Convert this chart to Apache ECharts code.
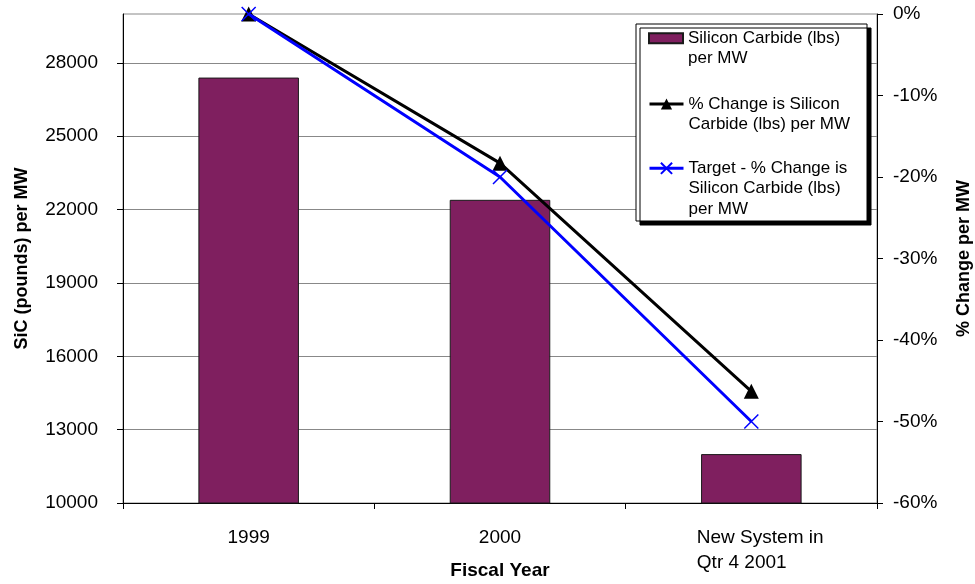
<!DOCTYPE html>
<html>
<head>
<meta charset="utf-8">
<script src="https://cdn.jsdelivr.net/npm/echarts@6/dist/echarts.min.js"></script>
<style>
  html, body { margin: 0; padding: 0; background: #fff; }
  #chart { width: 975px; height: 584px; }
</style>
</head>
<body>
<div id="chart"></div>
<script>
// Fiscal years / system stages on the category axis
const categories = ['1999', '2000', 'New System in\nQtr 4 2001'];
// Silicon carbide use, pounds per MW (bars, left axis)
const sicPerMW = [27400, 22400, 12000];
// Percent change vs. 1999 (right axis)
const pctChange = [0, -18.3, -46.3];
const targetPctChange = [0, -20, -50];
// Tick values
const sicTicks = [10000, 13000, 16000, 19000, 22000, 25000, 28000];
const pctTicks = [0, -10, -20, -30, -40, -50, -60];

const seriesNames = [
  'Silicon Carbide (lbs) per MW',
  '% Change is Silicon Carbide (lbs) per MW',
  'Target - % Change is Silicon Carbide (lbs) per MW'
];
const legendLines = {
  [seriesNames[0]]: ['Silicon Carbide (lbs)', 'per MW'],
  [seriesNames[1]]: ['% Change is Silicon', 'Carbide (lbs) per MW'],
  [seriesNames[2]]: ['Target - % Change is', 'Silicon Carbide (lbs)', 'per MW']
};

const FONT = "'Liberation Sans', Arial, sans-serif";
const LINE_H = 20.5;

// One legend block per series; leading blank lines keep the icon level
// with the first line of a multi-line entry (legend text is centred on the icon)
function legendBlock(name, firstLineY, itemHeight, extra) {
  const lines = legendLines[name];
  const n = lines.length;
  const text = new Array(n - 1).fill('').concat(lines).join('\n');
  return Object.assign({
    data: [name],
    left: 648,
    top: firstLineY - (2 * n - 1) * LINE_H / 2,
    orient: 'vertical',
    padding: 0,
    itemWidth: 34,
    itemHeight: itemHeight,
    itemGap: 0,
    selectedMode: false,
    z: 10,
    formatter: () => text,
    textStyle: {
      fontFamily: FONT,
      fontSize: 17,
      color: '#000',
      lineHeight: LINE_H
    }
  }, extra || {});
}

const chart = echarts.init(document.getElementById('chart'), null, { renderer: 'canvas' });

chart.setOption({
  animation: false,
  backgroundColor: '#fff',
  textStyle: { fontFamily: FONT },
  grid: {
    left: 123, right: 98, top: 14, bottom: 81,
    show: true, borderColor: '#888', borderWidth: 1,
    containLabel: false,
    outerBoundsMode: 'none'
  },
  graphic: [{
    type: 'rect',
    z: 3,
    shape: { x: 636, y: 24, width: 231, height: 197 },
    style: {
      fill: '#fff', stroke: '#000', lineWidth: 1,
      shadowColor: '#000', shadowOffsetX: 4, shadowOffsetY: 4, shadowBlur: 0
    }
  }],
  legend: [
    legendBlock(seriesNames[0], 38.3, 10, { icon: 'rect' }),
    legendBlock(seriesNames[1], 104, 14, { lineStyle: { width: 3 } }),
    legendBlock(seriesNames[2], 168.3, 14, { lineStyle: { width: 3 } })
  ],
  xAxis: {
    type: 'category',
    data: categories,
    boundaryGap: true,
    name: 'Fiscal Year',
    nameLocation: 'middle',
    nameGap: 58,
    nameMoveOverlap: false,
    nameTextStyle: { fontFamily: FONT, fontSize: 19, fontWeight: 'bold', color: '#000' },
    axisLine: { onZero: false, lineStyle: { color: '#000', width: 1 } },
    axisTick: { show: true, alignWithLabel: false, length: 6, lineStyle: { color: '#000' } },
    axisLabel: {
      margin: 22,
      fontFamily: FONT,
      fontSize: 19,
      color: '#000',
      lineHeight: 25,
      interval: 0,
      formatter: (v) => v.indexOf('\n') >= 0
        ? v.split('\n').map((s) => '{l|' + s + '}').join('\n')
        : v,
      rich: {
        l: {
          fontFamily: FONT, fontSize: 19, color: '#000', lineHeight: 25,
          width: 127, align: 'left', padding: [0, 0, 0, 18]
        }
      }
    },
    splitLine: { show: false }
  },
  yAxis: [{
    type: 'value',
    position: 'left',
    min: 10000,
    max: 30000,
    interval: 3000,
    name: 'SiC (pounds) per MW',
    nameLocation: 'middle',
    nameRotate: 90,
    nameGap: 92,
    nameMoveOverlap: false,
    nameTextStyle: { fontFamily: FONT, fontSize: 18, fontWeight: 'bold', color: '#000' },
    axisLine: { show: true, lineStyle: { color: '#000', width: 1 } },
    axisTick: { show: true, length: 6, lineStyle: { color: '#000' }, customValues: sicTicks },
    axisLabel: {
      margin: 25, fontFamily: FONT, fontSize: 19, color: '#000',
      customValues: sicTicks,
      formatter: (v) => String(v)
    },
    splitLine: { show: true, lineStyle: { color: '#888', width: 1 } }
  }, {
    type: 'value',
    position: 'right',
    min: -60,
    max: 0,
    interval: 10,
    name: '% Change per MW',
    nameLocation: 'middle',
    nameRotate: 90,
    nameGap: 78,
    nameMoveOverlap: false,
    nameTextStyle: { fontFamily: FONT, fontSize: 18, fontWeight: 'bold', color: '#000' },
    axisLine: { show: true, lineStyle: { color: '#000', width: 1 } },
    axisTick: { show: true, length: 6, lineStyle: { color: '#000' }, customValues: pctTicks },
    axisLabel: {
      margin: 16, fontFamily: FONT, fontSize: 19, color: '#000',
      customValues: pctTicks,
      formatter: (v) => v + '%'
    },
    splitLine: { show: false }
  }],
  series: [{
    name: seriesNames[0],
    type: 'bar',
    yAxisIndex: 0,
    data: sicPerMW,
    barWidth: '40%',
    itemStyle: { color: '#7f1f5f', borderColor: '#1a1a1a', borderWidth: 1 },
    z: 2
  }, {
    name: seriesNames[1],
    type: 'line',
    yAxisIndex: 1,
    data: pctChange,
    symbol: 'triangle',
    symbolSize: 15,
    showSymbol: true,
    lineStyle: { color: '#000', width: 3 },
    itemStyle: { color: '#000' },
    z: 5
  }, {
    name: seriesNames[2],
    type: 'line',
    yAxisIndex: 1,
    data: targetPctChange,
    symbol: 'path://M0,0L10,10M10,0L0,10',
    symbolSize: 14,
    showSymbol: true,
    lineStyle: { color: '#0000ff', width: 3 },
    itemStyle: { color: 'rgba(0,0,0,0)', borderColor: '#0000ff', borderWidth: 1.5 },
    z: 6
  }]
});
</script>
</body>
</html>
